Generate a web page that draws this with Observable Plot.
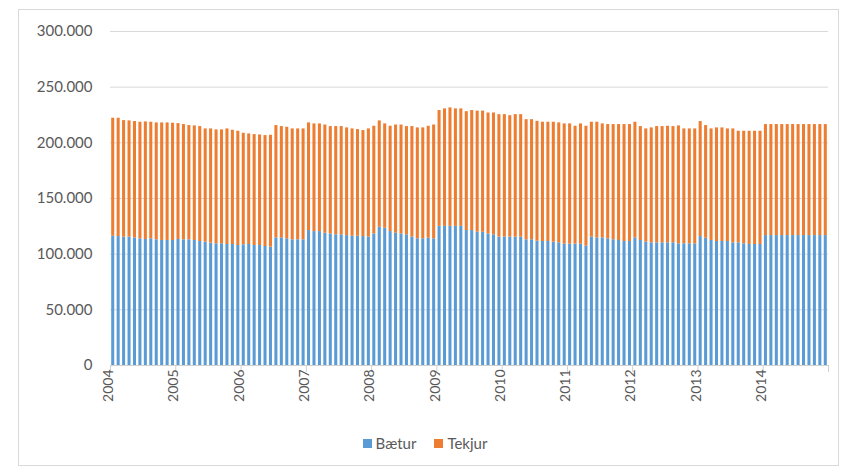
<!DOCTYPE html>
<html><head><meta charset="utf-8">
<script src="https://cdn.jsdelivr.net/npm/d3@7"></script>
<script src="https://cdn.jsdelivr.net/npm/@observablehq/plot@0.6"></script>
<style>
body{margin:0;background:#fff;}
#wrap{position:relative;width:850px;height:468px;overflow:hidden;font-family:Lato,"Open Sans",sans-serif;}
#frame{position:absolute;left:18px;top:9px;width:821px;height:457px;border:1px solid #d9d9d9;box-sizing:border-box;}
#chart{position:absolute;left:0;top:0;}
#legend{position:absolute;left:0;top:433px;width:850px;display:flex;justify-content:center;gap:18px;font-size:15px;color:#595959;line-height:20px;}
#legend span.item{display:flex;align-items:center;gap:4px;}
#legend span.sw{display:inline-block;width:9px;height:9px;}
</style></head>
<body>
<div id="wrap"><div id="frame"></div><div id="chart"></div><div id="legend"></div></div>
<script>
const years = [2004,2005,2006,2007,2008,2009,2010,2011,2012,2013,2014];
const seriesNames = ["Bætur","Tekjur"];
const seriesColors = ["#5B9BD5","#ED7D31"];
const yTicks = [0,50000,100000,150000,200000,250000,300000];

// monthly values Jan 2004 – Dec 2014
const baetur = [
116100,115800,115300,115300,114600,113800,113200,113800,112900,112300,112300,112300,
113200,112900,112900,112300,111400,110800,109900,109300,109300,108700,108700,107800,
108400,108700,107800,107800,106900,106300,114600,114600,113800,112900,112900,112900,
121200,120300,120300,118800,118200,117400,117400,116700,116100,116100,115800,115300,
118200,124200,123300,120300,118800,118200,117400,115300,113800,113800,114300,113800,
125000,125000,125000,125000,125000,121200,121200,119700,119700,118200,117400,115300,
115300,115300,115300,115300,112900,112900,111700,111400,111400,110800,110200,109000,
109000,109000,109000,107200,115300,114600,114600,113800,112900,112300,111400,111400,
114600,112300,110800,110200,110200,110200,110200,110200,109300,109300,109300,109300,
115800,114300,112300,111400,111400,111400,110200,110200,109300,108700,108700,108700,
116700,116700,116700,116700,116700,116700,116700,116700,116700,116700,116700,116700
];
const tekjur = [
106000,106300,104700,104400,104500,104700,105600,104700,105000,105600,105600,105300,
104100,103500,102600,102900,103200,101700,102600,102300,102300,103800,102600,102600,
100200,99300,99600,99300,99600,100500,100900,100000,100200,99600,99600,99600,
96700,96700,96700,97200,96400,97200,97200,96700,96400,95800,95200,97200,
96700,95500,93700,94600,97200,97800,97200,99300,99600,99600,100600,102200,
104000,105500,106400,105500,105500,106800,107800,108800,108800,108600,109400,110000,
110000,109100,110000,110000,107900,107900,107600,107100,107100,107700,107700,108000,
108000,105900,108000,107700,103200,103900,102400,102600,103500,104100,105000,105000,
103900,102300,101700,103200,104400,104400,104700,104400,105900,103200,103200,103200,
103300,101200,100200,102000,102000,101100,102300,100200,101100,101700,101700,101700,
99700,99700,99700,99700,99700,99700,99700,99700,99700,99700,99700,99700
];

const rows = [];
baetur.forEach((b, i) => {
  rows.push({i, y1: 0, y2: b, s: seriesNames[0]});
  rows.push({i, y1: b, y2: b + tekjur[i], s: seriesNames[1]});
});
const nMonths = baetur.length;
const yearStart = years.map((y, k) => k * 12);
const boundaries = [...yearStart, nMonths];

const fmt = d3.formatLocale({decimal: ",", thousands: ".", grouping: [3], currency: ["", ""]}).format(",");

const chart = Plot.plot({
  width: 850, height: 420,
  marginLeft: 110, marginRight: 22, marginTop: 31, marginBottom: 55,
  style: {fontFamily: "Lato, 'Open Sans', sans-serif", background: "transparent"},
  x: {type: "linear", domain: [0, nMonths]},
  y: {domain: [0, 300000]},
  color: {domain: seriesNames, range: seriesColors},
  marks: [
    Plot.gridY(yTicks, {stroke: "#d9d9d9", strokeOpacity: 1}),
    Plot.rect(rows, {x1: d => d.i, x2: d => d.i + 1, y1: "y1", y2: "y2", fill: "s", insetLeft: 1.2, insetRight: 1.2}),
    Plot.ruleY([0], {stroke: "#d0d0d0"}),
    Plot.axisY(yTicks, {tickSize: 0, tickPadding: 18, tickFormat: fmt, fontSize: 15, fill: "#595959"}),
    Plot.axisX(boundaries, {tickSize: 7, stroke: "#d0d0d0", tickFormat: () => "", label: null}),
    Plot.text(years, {x: (d, k) => yearStart[k] + 0.5, frameAnchor: "bottom", rotate: -90, textAnchor: "end", dy: 4, fontSize: 14, fill: "#595959", text: d => String(d)})
  ]
});
document.getElementById("chart").appendChild(chart);

const lg = document.getElementById("legend");
seriesNames.forEach((n, k) => {
  const it = document.createElement("span"); it.className = "item";
  const sw = document.createElement("span"); sw.className = "sw"; sw.style.background = seriesColors[k];
  const tx = document.createElement("span"); tx.textContent = n;
  it.appendChild(sw); it.appendChild(tx); lg.appendChild(it);
});
</script>
</body></html>
